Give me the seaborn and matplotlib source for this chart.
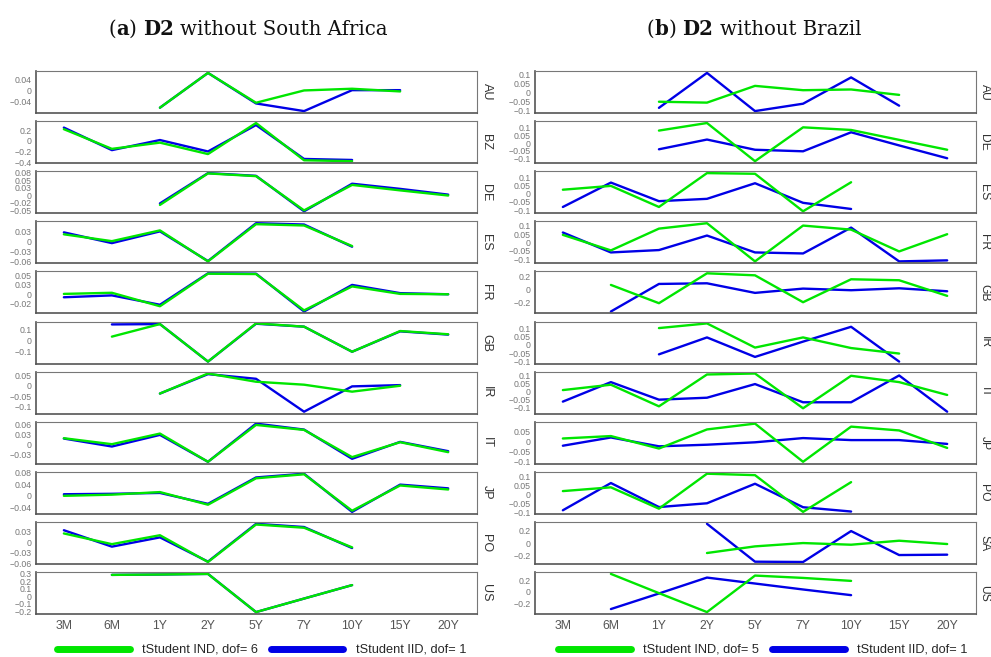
import numpy as np
import pandas as pd
import seaborn as sns
import matplotlib.pyplot as plt
from matplotlib.lines import Line2D

nan = np.nan

maturities = ["3M", "6M", "1Y", "2Y", "5Y", "7Y", "10Y", "15Y", "20Y"]

# panel (a): D2 without South Africa
countries_a = ["AU", "BZ", "DE", "ES", "FR", "GB", "IR", "IT", "JP", "PO", "US"]
a_ind = {
    "AU": [nan, nan, -0.061, 0.062, -0.0435, 0.0, 0.006, -0.0035, nan],
    "BZ": [0.222, -0.148, -0.031, -0.246, 0.338, -0.363, -0.38, nan, nan],
    "DE": [nan, nan, -0.032, 0.072, 0.063, -0.050, 0.034, 0.016, -0.001],
    "ES": [0.022, 0.001, 0.034, -0.061, 0.053, 0.049, -0.014, nan, nan],
    "FR": [0.001, 0.004, -0.032, 0.055, 0.054, -0.043, 0.021, 0.001, 0.0],
    "GB": [nan, 0.035, 0.147, -0.188, 0.153, 0.124, -0.10, 0.085, 0.056],
    "IR": [nan, nan, -0.037, 0.058, 0.019, 0.005, -0.028, 0.0, nan],
    "IT": [0.018, 0.0, 0.032, -0.053, 0.058, 0.043, -0.039, 0.006, -0.024],
    "JP": [-0.001, 0.003, 0.012, -0.032, 0.060, 0.074, -0.053, 0.035, 0.021],
    "PO": [0.024, -0.006, 0.019, -0.056, 0.049, 0.040, -0.015, nan, nan],
    "US": [nan, 0.285, 0.29, 0.298, -0.21, -0.03, 0.149, nan, nan],
}
a_iid = {
    "AU": [nan, nan, -0.061, 0.062, -0.046, -0.073, 0.001, 0.001, nan],
    "BZ": [0.252, -0.172, 0.018, -0.197, 0.30, -0.338, -0.357, nan, nan],
    "DE": [nan, nan, -0.027, 0.073, 0.064, -0.053, 0.038, 0.021, 0.002],
    "ES": [0.028, -0.005, 0.031, -0.060, 0.056, 0.052, -0.016, nan, nan],
    "FR": [-0.008, -0.003, -0.028, 0.056, 0.055, -0.046, 0.025, 0.003, 0.0],
    "GB": [nan, 0.144, 0.147, -0.188, 0.15, 0.124, -0.10, 0.082, 0.053],
    "IR": [nan, nan, -0.037, 0.055, 0.033, -0.123, -0.003, 0.003, nan],
    "IT": [0.017, -0.007, 0.028, -0.053, 0.062, 0.044, -0.044, 0.007, -0.021],
    "JP": [0.0045, 0.006, 0.009, -0.029, 0.063, 0.076, -0.057, 0.038, 0.025],
    "PO": [0.033, -0.013, 0.013, -0.055, 0.051, 0.042, -0.017, nan, nan],
    "US": [nan, 0.285, 0.29, 0.298, -0.21, -0.03, 0.149, nan, nan],
}
a_ticks = {
    "AU": [0.04, 0, -0.04],
    "BZ": [0.2, 0, -0.2, -0.4],
    "DE": [0.075, 0.05, 0.025, 0, -0.025, -0.05],
    "ES": [0.03, 0, -0.03, -0.06],
    "FR": [0.05, 0.025, 0, -0.025],
    "GB": [0.1, 0, -0.1],
    "IR": [0.05, 0, -0.05, -0.1],
    "IT": [0.06, 0.03, 0, -0.03],
    "JP": [0.08, 0.04, 0, -0.04],
    "PO": [0.03, 0, -0.03, -0.06],
    "US": [0.3, 0.2, 0.1, 0, -0.1, -0.2],
}
a_ticklabels = {
    "DE": ["0.08", "0.05", "0.03", "0", "\u22120.02", "\u22120.05"],
    "FR": ["0.05", "0.03", "0", "\u22120.02"],
}

# panel (b): D2 without Brazil
countries_b = ["AU", "DE", "ES", "FR", "GB", "IR", "IT", "JP", "PO", "SA", "US"]
b_ind = {
    "AU": [nan, nan, -0.053, -0.058, 0.035, 0.011, 0.015, -0.015, nan],
    "DE": [nan, nan, 0.081, 0.13, -0.117, 0.102, 0.085, 0.021, -0.043],
    "ES": [0.024, 0.047, -0.08, 0.124, 0.12, -0.106, 0.069, nan, nan],
    "FR": [0.045, -0.047, 0.082, 0.114, -0.112, 0.1, 0.076, -0.053, 0.049],
    "GB": [nan, 0.072, -0.21, 0.251, 0.22, -0.195, 0.159, 0.144, -0.097],
    "IR": [nan, nan, 0.105, 0.134, -0.016, 0.047, -0.019, -0.053, nan],
    "IT": [0.008, 0.041, -0.092, 0.104, 0.11, -0.104, 0.096, 0.057, -0.022],
    "JP": [0.016, 0.028, -0.034, 0.061, 0.09, -0.1, 0.075, 0.056, -0.031],
    "PO": [0.02, 0.041, -0.078, 0.117, 0.109, -0.096, 0.07, nan, nan],
    "SA": [nan, nan, nan, -0.162, -0.054, 0.0, -0.027, 0.038, -0.016],
    "US": [nan, 0.313, -0.023, -0.354, 0.284, 0.243, 0.191, nan, nan],
}
b_iid = {
    "AU": [nan, nan, -0.087, 0.107, -0.105, -0.064, 0.082, -0.075, nan],
    "DE": [nan, nan, -0.040, 0.023, -0.043, -0.053, 0.070, -0.015, -0.098],
    "ES": [-0.08, 0.067, -0.045, -0.031, 0.063, -0.055, -0.092, nan, nan],
    "FR": [0.059, -0.059, -0.045, 0.041, -0.059, -0.065, 0.088, -0.112, -0.106],
    "GB": [nan, -0.338, 0.087, 0.097, -0.051, 0.015, -0.01, 0.02, -0.026],
    "IR": [nan, nan, -0.058, 0.047, -0.074, 0.021, 0.113, -0.103, nan],
    "IT": [-0.063, 0.057, -0.051, -0.039, 0.045, -0.067, -0.067, 0.098, -0.125],
    "JP": [-0.02, 0.021, -0.023, -0.015, -0.003, 0.018, 0.008, 0.008, -0.011],
    "PO": [-0.087, 0.065, -0.069, -0.048, 0.061, -0.07, -0.094, nan, nan],
    "SA": [nan, nan, nan, 0.313, -0.303, -0.308, 0.195, -0.195, -0.189],
    "US": [nan, -0.301, -0.029, 0.249, 0.145, 0.041, -0.058, nan, nan],
}
b_ticks = {
    "AU": [0.1, 0.05, 0, -0.05, -0.1],
    "DE": [0.1, 0.05, 0, -0.05, -0.1],
    "ES": [0.1, 0.05, 0, -0.05, -0.1],
    "FR": [0.1, 0.05, 0, -0.05, -0.1],
    "GB": [0.2, 0, -0.2],
    "IR": [0.1, 0.05, 0, -0.05, -0.1],
    "IT": [0.1, 0.05, 0, -0.05, -0.1],
    "JP": [0.05, 0, -0.05, -0.1],
    "PO": [0.1, 0.05, 0, -0.05, -0.1],
    "SA": [0.2, 0, -0.2],
    "US": [0.2, 0, -0.2],
}
b_ticklabels = {}

GREEN = "#00e600"
BLUE = "#0000e6"

sns.set_theme(style="white")
plt.rcParams["font.family"] = ["Liberation Sans", "DejaVu Sans"]

W, H = 991, 657
fig = plt.figure(figsize=(W / 100, H / 100), dpi=100)


def fmt(v):
    return f"{v:g}".replace("-", "\u2212")


def draw_panel(x0, x1, countries, ind, iid, ticks, ticklabels, label_pad, label_size):
    n = len(maturities)
    for i, c in enumerate(countries):
        top = 71 + i * 50.1
        ax = fig.add_axes([x0 / W, 1 - (top + 42) / H, (x1 - x0) / W, 42 / H])
        df = pd.DataFrame({
            "x": list(range(n)) * 2,
            "value": iid[c] + ind[c],
            "series": ["iid"] * n + ["ind"] * n,
        }).dropna()
        sns.lineplot(data=df, x="x", y="value", hue="series",
                     hue_order=["iid", "ind"], palette=[BLUE, GREEN],
                     lw=1.7, errorbar=None, legend=False, ax=ax)
        lo, hi = df["value"].min(), df["value"].max()
        pad = 0.05 * (hi - lo)
        ax.set_ylim(lo - pad, hi + pad)
        ax.set_xlim(-0.58, 8.6)
        ax.set_yticks(ticks[c])
        ax.set_yticklabels(ticklabels.get(c, [fmt(v) for v in ticks[c]]))
        ax.set_xticks(range(n))
        if i == len(countries) - 1:
            ax.set_xticklabels(maturities)
        else:
            ax.set_xticklabels([])
        ax.set_xlabel("")
        ax.set_ylabel("")
        ax.tick_params(axis="y", length=0, pad=3, labelsize=6.3, labelcolor="#777777")
        ax.tick_params(axis="x", length=0, pad=4, labelsize=8.8, labelcolor="#555555")
        for side in ["top", "right"]:
            ax.spines[side].set_color("#777777")
            ax.spines[side].set_linewidth(0.8)
        for side in ["left", "bottom"]:
            ax.spines[side].set_color("#555555")
            ax.spines[side].set_linewidth(1.2)
        ax.text(1 + label_pad / (x1 - x0), 0.5, c, transform=ax.transAxes, rotation=-90,
                ha="left", va="center", fontsize=label_size, color="#333333")


def draw_title(cx, parts):
    r = fig.canvas.get_renderer()
    y = 1 - 35 / H
    fam = "DejaVu Serif"
    size = 14.2
    probe1 = fig.text(0, 0, "x x", fontsize=size, family=fam)
    probe2 = fig.text(0, 0, "xx", fontsize=size, family=fam)
    space = probe1.get_window_extent(r).width - probe2.get_window_extent(r).width
    probe1.remove()
    probe2.remove()
    texts, widths = [], []
    for s, bold, gap in parts:
        t = fig.text(0, y, s, fontsize=size, family=fam,
                     weight="bold" if bold else "normal", va="baseline", color="#111111")
        texts.append(t)
        widths.append(t.get_window_extent(r).width + (space if gap else 0))
    x = cx - sum(widths) / 2
    for t, w in zip(texts, widths):
        t.set_x(x / W)
        x += w


def draw_legend(x_start, ind_label, iid_label):
    handles = [Line2D([], [], color=GREEN, lw=5), Line2D([], [], color=BLUE, lw=5)]
    fig.legend(handles, [ind_label, iid_label], loc="center left",
               bbox_to_anchor=(x_start / W, 7 / H), ncol=2, frameon=False,
               fontsize=9.2, handlelength=5.7, handletextpad=0.95,
               columnspacing=1.0, borderpad=0, borderaxespad=0)


draw_panel(36, 477, countries_a, a_ind, a_iid, a_ticks, a_ticklabels, 3.5, 9)
draw_panel(535, 976, countries_b, b_ind, b_iid, b_ticks, b_ticklabels, 2.5, 8.7)

draw_title(248, [("(", False, False), ("a", True, False), (")", False, True),
                 ("D2", True, True), ("without South Africa", False, False)])
draw_title(754, [("(", False, False), ("b", True, False), (")", False, True),
                 ("D2", True, True), ("without Brazil", False, False)])

draw_legend(57, "tStudent IND, dof= 6", "tStudent IID, dof= 1")
draw_legend(558, "tStudent IND, dof= 5", "tStudent IID, dof= 1")

fig.savefig("out.png", dpi=100)
